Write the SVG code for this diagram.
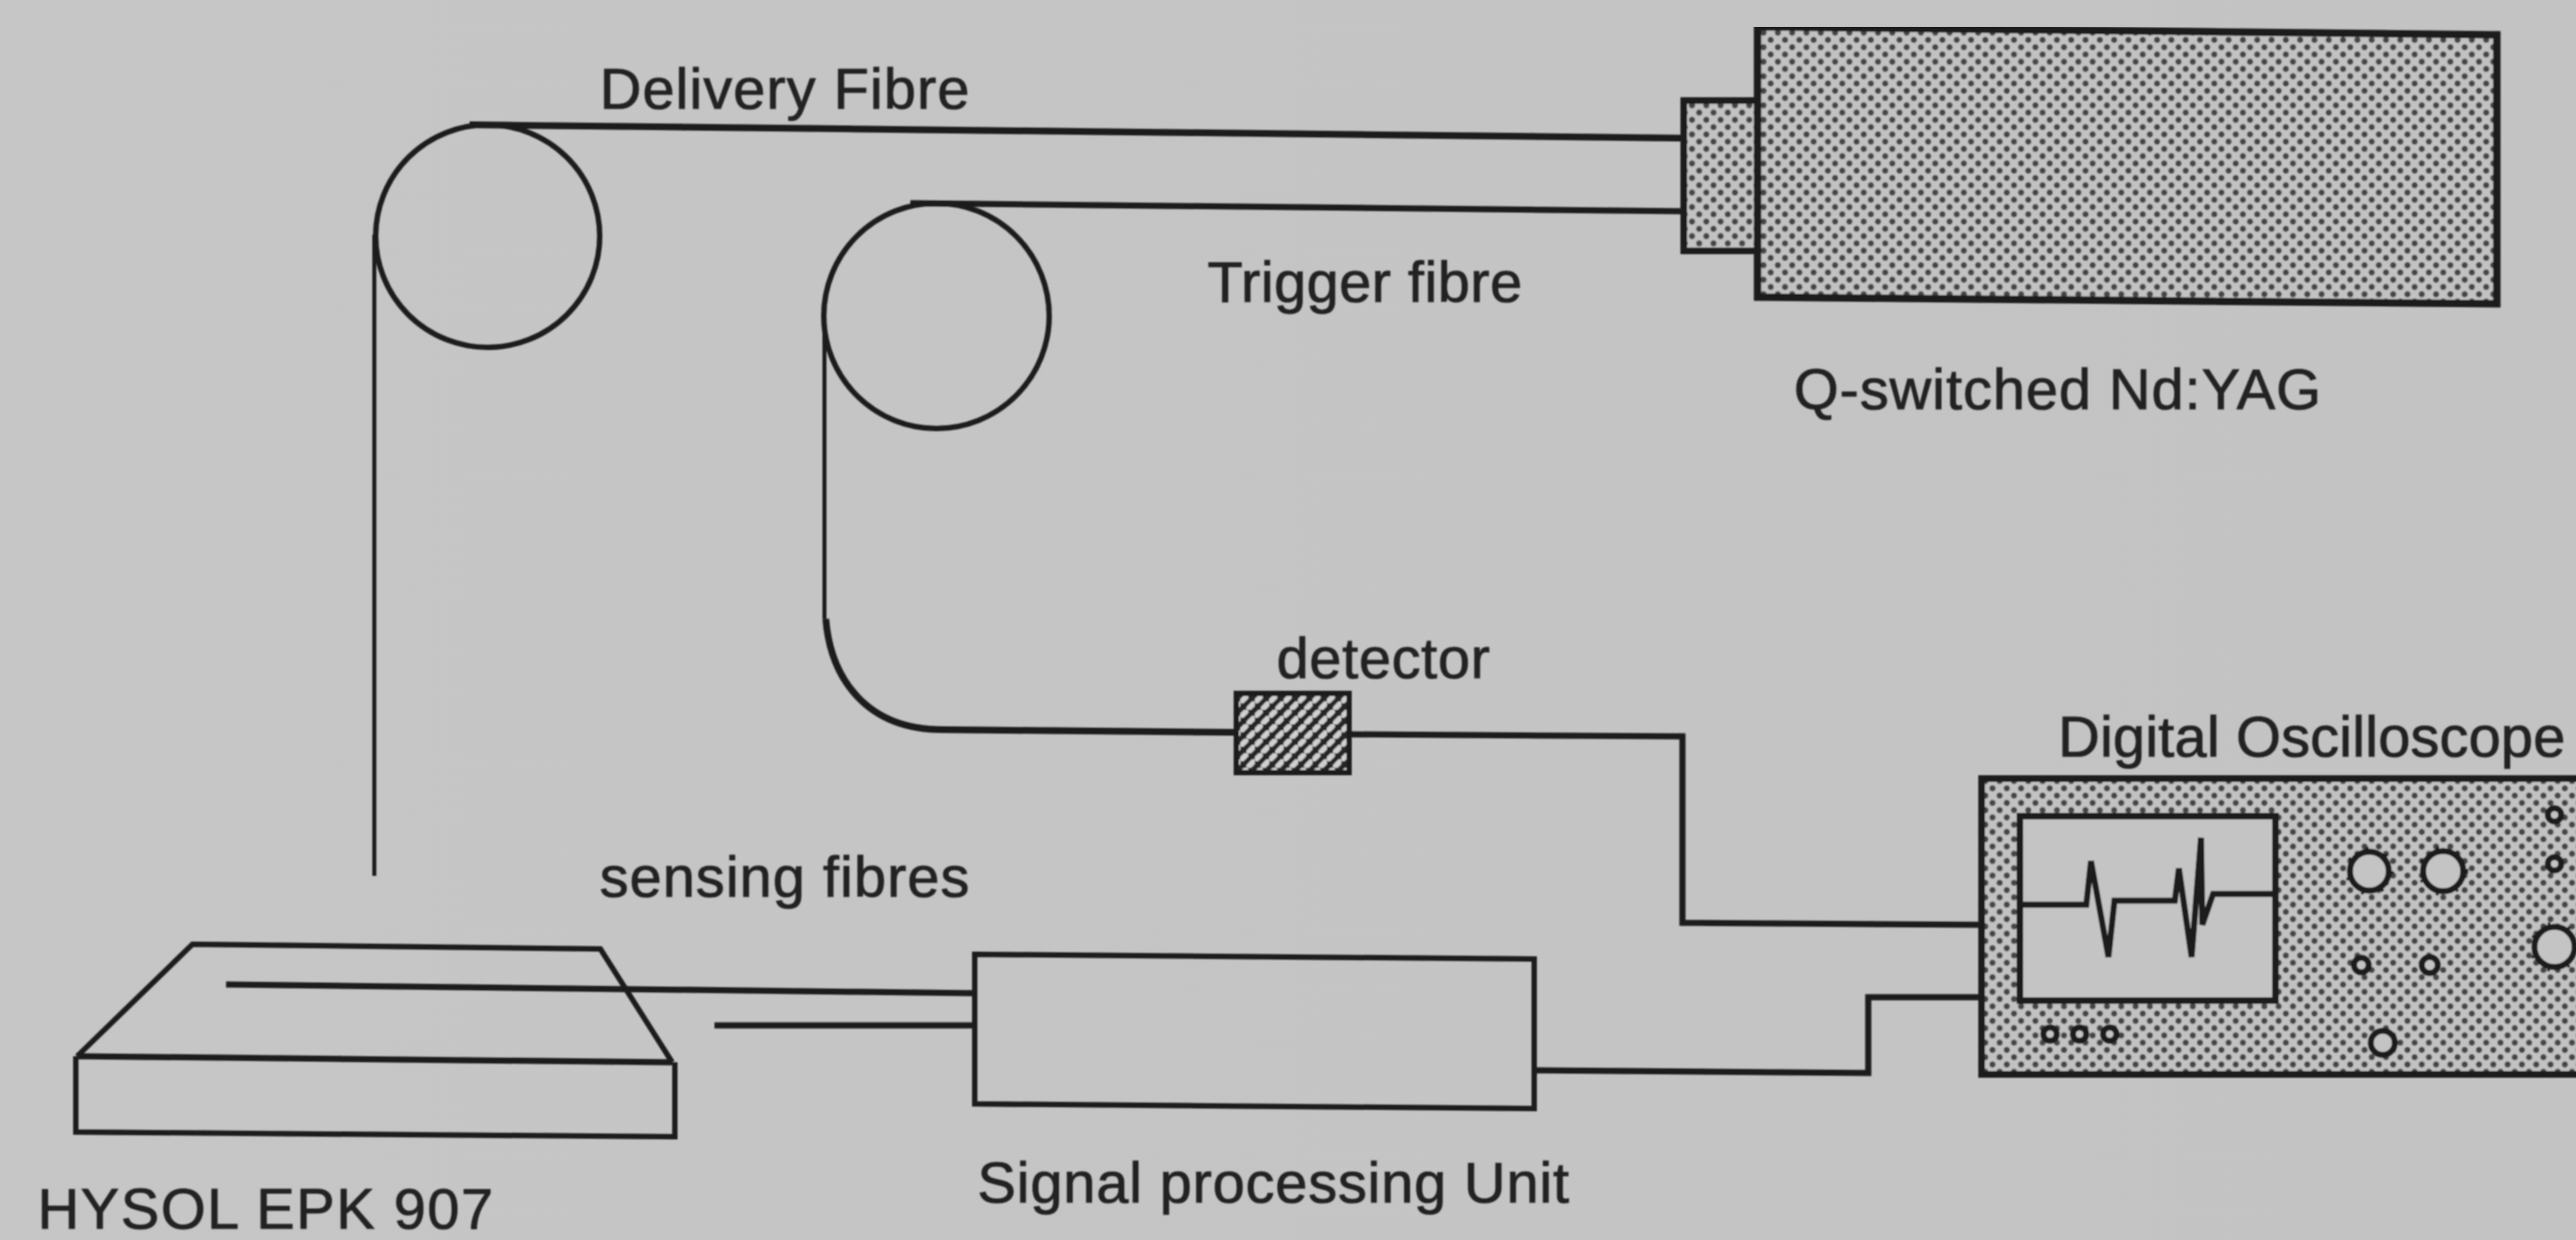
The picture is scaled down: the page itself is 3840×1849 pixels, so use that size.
<svg xmlns="http://www.w3.org/2000/svg" width="3840" height="1849" viewBox="0 0 3840 1849">
<style>
.o{fill:none;stroke:#1a1a1a;stroke-linejoin:miter}
.t{font-family:"Liberation Sans",Arial,sans-serif;font-size:86px;fill:#222;stroke:#222;stroke-width:1.2}
.k{fill:#c4c4c4;stroke:#1a1a1a;stroke-width:9}
.s{fill:none;stroke:#1a1a1a;stroke-width:7;stroke-dasharray:4 26}
</style>
<defs>
<filter id="soft" x="0" y="0" width="100%" height="100%"><feGaussianBlur stdDeviation="1.3"/></filter>
<pattern id="dots" width="21.33" height="21.67" patternUnits="userSpaceOnUse">
<rect width="21.33" height="21.67" fill="#c2c2c2"/>
<circle cx="5.3" cy="5.4" r="4.6" fill="#454545"/>
<circle cx="16" cy="16.2" r="4.6" fill="#454545"/>
</pattern>
<pattern id="hatch" width="21.5" height="21.6" patternUnits="userSpaceOnUse">
<rect width="21.5" height="21.6" fill="#262626"/>
<path d="M3 8 L8 3M13 19 L19 13" stroke="#d0d0d0" stroke-width="8" stroke-linecap="round"/>
</pattern>
<linearGradient id="bg" x1="0" y1="0" x2="1" y2="0">
<stop offset="0" stop-color="#c6c6c6"/><stop offset="1" stop-color="#c3c3c3"/>
</linearGradient>
</defs>
<rect width="3840" height="1849" fill="url(#bg)"/>
<g filter="url(#soft)">
<g id="connectors">
<path class="o" stroke-width="10" d="M700 186 L2510 206"/>
<path class="o" stroke-width="6" d="M558 350 V1306"/>
<path class="o" stroke-width="9" d="M1357 303 L2510 315"/>
<path class="o" stroke-width="6" d="M1229 470 V923"/>
<path class="o" stroke-width="10" d="M1231 923 C1238 1010 1290 1088 1405 1088 L1842 1092"/>
<path class="o" stroke-width="9" d="M2012 1095 L2508 1098 V1376 L2954 1379"/>
<path class="o" stroke-width="9" d="M337 1468 L1452 1481"/>
<path class="o" stroke-width="9" d="M1065 1529 H1452"/>
<path class="o" stroke-width="9" d="M2287 1596 L2785 1600 V1487 H2954"/>
</g>
<g id="spool-delivery"><ellipse class="o" stroke-width="8" cx="727" cy="352" rx="167" ry="166"/></g>
<g id="spool-trigger"><ellipse class="o" stroke-width="8" cx="1396" cy="471" rx="168" ry="168"/></g>
<g id="laser">
<rect x="2510" y="150" width="110" height="224" fill="url(#dots)" stroke="#1a1a1a" stroke-width="10"/>
<path d="M2620 40 L3722 52 V453 L2620 443 Z" fill="url(#dots)" stroke="#1a1a1a" stroke-width="11"/>
</g>
<g id="detector">
<rect x="1843" y="1034" width="168" height="118" fill="url(#hatch)" stroke="#1a1a1a" stroke-width="8"/>
</g>
<g id="sample">
<path class="o" stroke-width="8" d="M115 1575 L287 1408 L895 1415 L1002 1584"/>
<path class="o" stroke-width="9" d="M115 1575 L1002 1584"/>
<path class="o" stroke-width="8" d="M113 1575 V1688 L1006 1695 V1584"/>
</g>
<g id="signal-unit">
<path class="o" stroke-width="8" d="M1453 1423 L2287 1430 V1653 L1453 1646 Z"/>
</g>
<g id="oscilloscope">
<rect x="2954" y="1161" width="900" height="441" fill="url(#dots)" stroke="#1a1a1a" stroke-width="10"/>
<rect x="3011" y="1217" width="381" height="275" fill="#c4c4c4" stroke="#1a1a1a" stroke-width="10"/>
<path class="o" stroke-width="9" d="M3011 1349 H3110 L3117 1284 L3143 1427 L3152 1343 H3242 L3248 1295 L3267 1427 L3281 1249 L3283 1379 L3299 1333 H3392"/>
<circle class="s" cx="3532" cy="1299" r="33"/>
<circle class="s" cx="3642" cy="1299" r="34"/>
<circle class="s" cx="3808" cy="1412" r="34"/>
<ellipse class="k" cx="3532" cy="1299" rx="29" ry="29"/>
<ellipse class="k" cx="3642" cy="1299" rx="30" ry="30"/>
<circle class="k" cx="3808" cy="1412" r="30"/>
<circle class="k" cx="3808" cy="1215" r="10"/>
<circle class="k" cx="3808" cy="1288" r="10"/>
<circle class="k" cx="3520" cy="1439" r="11"/>
<circle class="k" cx="3622" cy="1439" r="12"/>
<circle class="k" cx="3552" cy="1555" r="18"/>
<circle class="k" cx="3056" cy="1542" r="10"/>
<circle class="k" cx="3100" cy="1542" r="10"/>
<circle class="k" cx="3145" cy="1542" r="10"/>
</g>
<g id="labels">
<text class="t" x="894" y="162" textLength="551">Delivery Fibre</text>
<text class="t" x="1800" y="450" textLength="469">Trigger fibre</text>
<text class="t" x="2674" y="610" textLength="786">Q-switched Nd:YAG</text>
<text class="t" x="1903" y="1011" textLength="318">detector</text>
<text class="t" x="3068" y="1128" textLength="756">Digital Oscilloscope</text>
<text class="t" x="894" y="1337" textLength="551">sensing fibres</text>
<text class="t" x="1457" y="1793" textLength="882">Signal processing Unit</text>
<text class="t" x="56" y="1832" textLength="679">HYSOL EPK 907</text>
</g>
</g>
</svg>
